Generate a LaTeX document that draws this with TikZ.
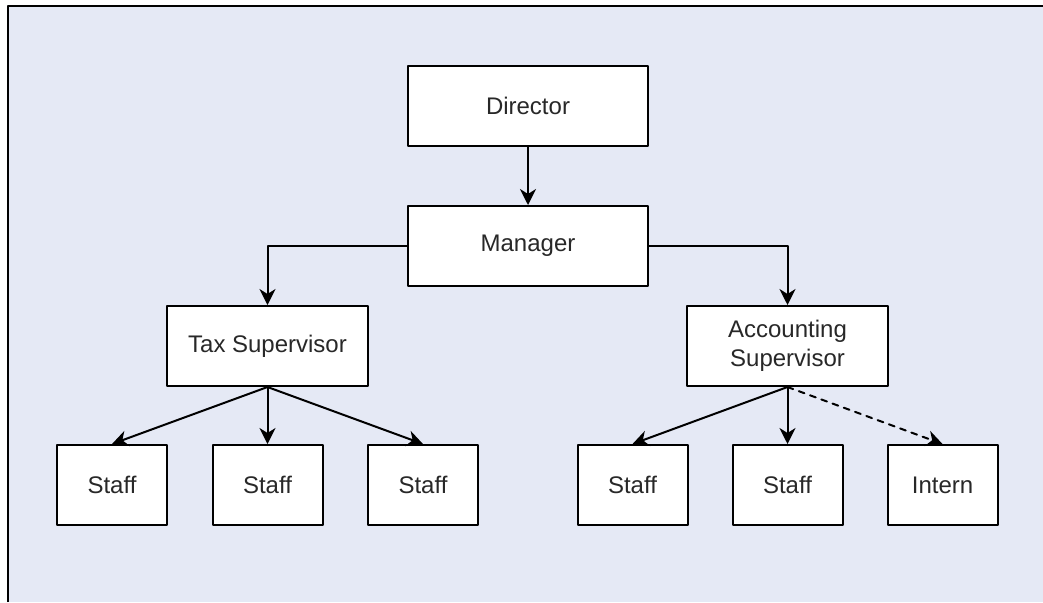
\documentclass[tikz,border=0pt]{standalone}
\usepackage{fontspec}
\setmainfont{Liberation Sans}
\usepackage{tikz}
\usetikzlibrary{arrows.meta}
\definecolor{pagebg}{RGB}{229,233,245}
\definecolor{inkgray}{RGB}{40,40,40}

\begin{document}
\begin{tikzpicture}[line cap=round,line join=round,>={Stealth[length=8pt,width=8pt,inset=2.5pt]},x=0.5pt,y=-0.5pt,
  role/.style={draw=black,line width=1pt,fill=white,inner sep=0pt,minimum height=40pt,
    text=inkgray,font=\fontsize{12}{14.5}\selectfont,align=center},
  boss/.style={role,minimum width=120pt},
  lead/.style={role,minimum width=100.5pt},
  worker/.style={role,minimum width=55pt},
  link/.style={->,line width=1pt},
  loose/.style={link,dash pattern=on 3pt off 3pt}]
\useasboundingbox (0,0) rectangle (1043,602);
\fill [pagebg] (8,6) rectangle (1043,602);
\draw [line width=1pt,line cap=butt] (8,602) -- (8,6) -- (1043,6);
\node[boss] (dir) at (528,106) {Director};
\node[boss] (man) at (528,246) {Manager};
\node[lead] (tax) at (267.5,346) {Tax Supervisor};
\node[lead] (acc) at (787.5,346) {Accounting\\Supervisor};
\node[worker] (tax1) at (112,485) {Staff};
\node[worker] (tax2) at (267.5,485) {Staff};
\node[worker] (tax3) at (423,485) {Staff};
\node[worker] (acc1) at (632.5,485) {Staff};
\node[worker] (acc2) at (787.5,485) {Staff};
\node[worker] (intern) at (942.5,485) {Intern};
\draw [link] (dir) -- (man);
\draw [link] (man.west) -| (tax);
\draw [link] (man.east) -| (acc);
\draw [link] (tax.south) -- (tax1.north);
\draw [link] (tax.south) -- (tax2.north);
\draw [link] (tax.south) -- (tax3.north);
\draw [link] (acc.south) -- (acc1.north);
\draw [link] (acc.south) -- (acc2.north);
\draw [loose] (acc.south) -- (intern.north);
\end{tikzpicture}
\end{document}
